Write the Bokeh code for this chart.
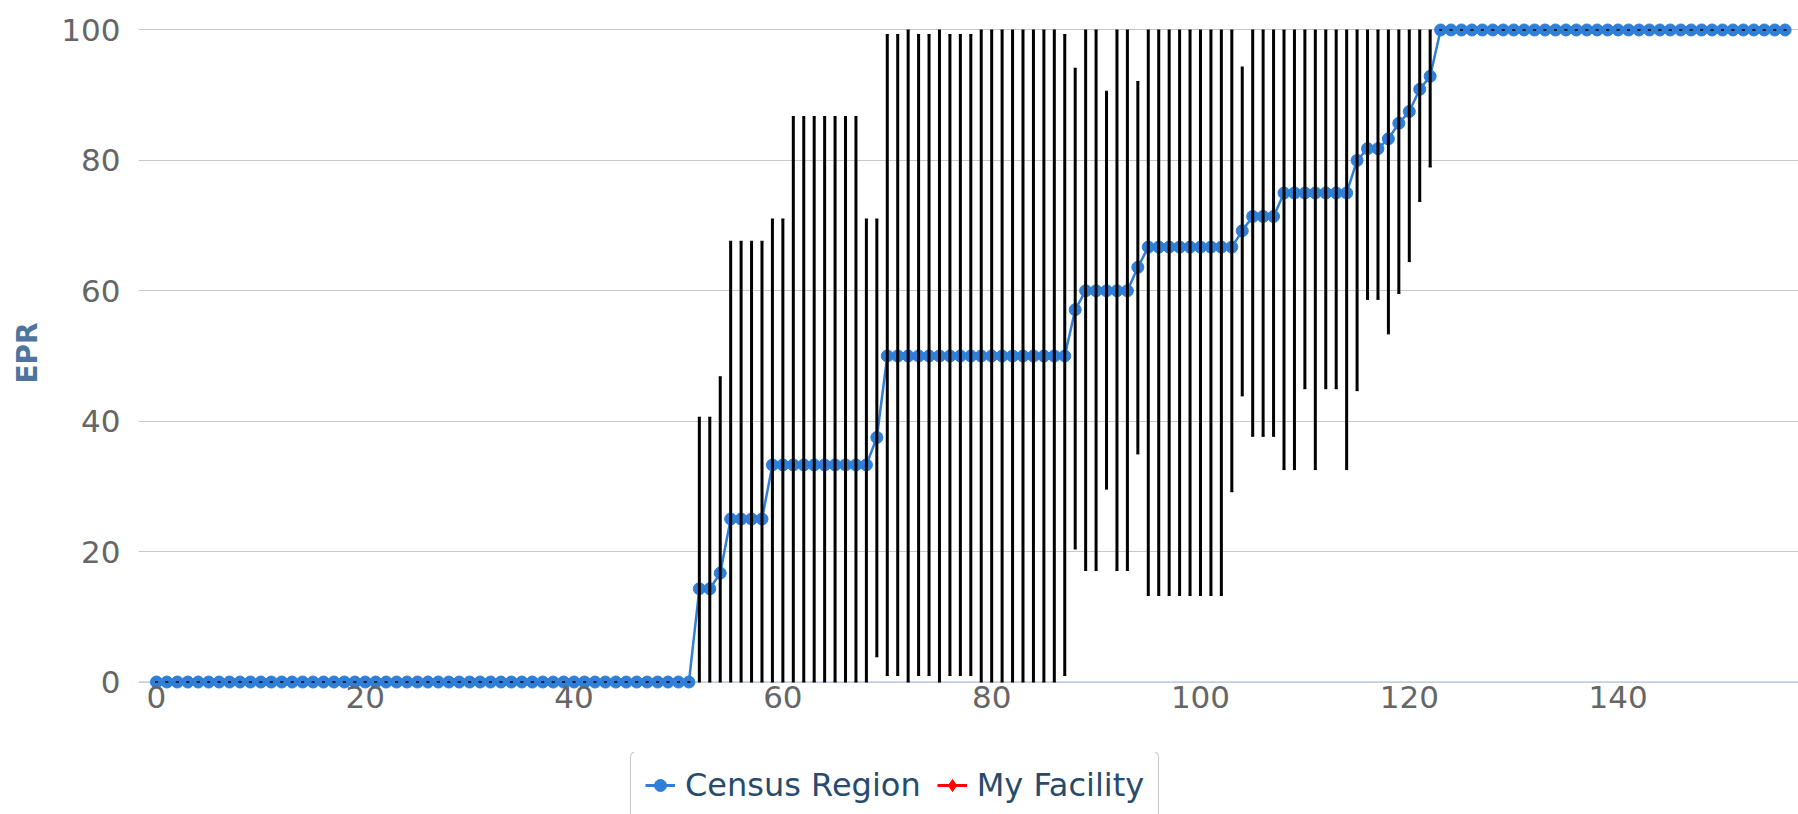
from bokeh.plotting import figure
from bokeh.layouts import column
from bokeh.models import ColumnDataSource, FixedTicker, Span, Legend, LegendItem, Range1d
from bokeh.embed import file_html
from bokeh.resources import INLINE

# ---------------- data ----------------
x_index = list(range(157))

census_region_epr = [
    0, 0, 0, 0, 0, 0, 0, 0, 0, 0,                              # 0-9
    0, 0, 0, 0, 0, 0, 0, 0, 0, 0,                              # 10-19
    0, 0, 0, 0, 0, 0, 0, 0, 0, 0,                              # 20-29
    0, 0, 0, 0, 0, 0, 0, 0, 0, 0,                              # 30-39
    0, 0, 0, 0, 0, 0, 0, 0, 0, 0,                              # 40-49
    0, 0, 14.3, 14.3, 16.7, 25, 25, 25, 25, 33.3,              # 50-59
    33.3, 33.3, 33.3, 33.3, 33.3, 33.3, 33.3, 33.3, 33.3, 37.5,  # 60-69
    50, 50, 50, 50, 50, 50, 50, 50, 50, 50,                    # 70-79
    50, 50, 50, 50, 50, 50, 50, 50, 57.1, 60,                  # 80-89
    60, 60, 60, 60, 63.6, 66.7, 66.7, 66.7, 66.7, 66.7,        # 90-99
    66.7, 66.7, 66.7, 66.7, 69.2, 71.4, 71.4, 71.4, 75, 75,    # 100-109
    75, 75, 75, 75, 75, 80, 81.8, 81.8, 83.3, 85.7,            # 110-119
    87.5, 90.9, 92.9, 100, 100, 100, 100, 100, 100, 100,       # 120-129
    100, 100, 100, 100, 100, 100, 100, 100, 100, 100,          # 130-139
    100, 100, 100, 100, 100, 100, 100, 100, 100, 100,          # 140-149
    100, 100, 100, 100, 100, 100, 100,                         # 150-156
]

ci_low = [
    0, 0, 0, 0, 0, 0, 0, 0, 0, 0,                              # 0-9
    0, 0, 0, 0, 0, 0, 0, 0, 0, 0,                              # 10-19
    0, 0, 0, 0, 0, 0, 0, 0, 0, 0,                              # 20-29
    0, 0, 0, 0, 0, 0, 0, 0, 0, 0,                              # 30-39
    0, 0, 0, 0, 0, 0, 0, 0, 0, 0,                              # 40-49
    0, 0, 0, 0, 0, 0, 0, 0, 0, 0,                              # 50-59
    0, 0, 0, 0, 0, 0, 0, 0, 0, 3.9,                            # 60-69
    1.0, 1.0, 0, 1.0, 1.0, 0, 1.0, 1.0, 1.0, 0,                # 70-79
    0, 0, 0, 0, 0, 0, 0, 1.0, 20.4, 17.1,                      # 80-89
    17.1, 29.6, 17.1, 17.1, 35.0, 13.3, 13.3, 13.3, 13.3, 13.3,  # 90-99
    13.3, 13.3, 13.3, 29.2, 43.9, 37.7, 37.7, 37.7, 32.6, 32.6,  # 100-109
    45.0, 32.6, 45.0, 45.0, 32.6, 44.7, 58.7, 58.7, 53.4, 59.6,  # 110-119
    64.5, 73.7, 79.0, 100, 100, 100, 100, 100, 100, 100,       # 120-129
    100, 100, 100, 100, 100, 100, 100, 100, 100, 100,          # 130-139
    100, 100, 100, 100, 100, 100, 100, 100, 100, 100,          # 140-149
    100, 100, 100, 100, 100, 100, 100,                         # 150-156
]

ci_high = [
    0, 0, 0, 0, 0, 0, 0, 0, 0, 0,                              # 0-9
    0, 0, 0, 0, 0, 0, 0, 0, 0, 0,                              # 10-19
    0, 0, 0, 0, 0, 0, 0, 0, 0, 0,                              # 20-29
    0, 0, 0, 0, 0, 0, 0, 0, 0, 0,                              # 30-39
    0, 0, 0, 0, 0, 0, 0, 0, 0, 0,                              # 40-49
    0, 0, 40.6, 40.6, 46.8, 67.6, 67.6, 67.6, 67.6, 71.0,      # 50-59
    71.0, 86.7, 86.7, 86.7, 86.7, 86.7, 86.7, 86.7, 71.0, 71.0,  # 60-69
    99.3, 99.3, 100, 99.3, 99.3, 100, 99.3, 99.3, 99.3, 100,   # 70-79
    100, 100, 100, 100, 100, 100, 100, 99.3, 94.1, 100,        # 80-89
    100, 90.6, 100, 100, 92.1, 100, 100, 100, 100, 100,        # 90-99
    100, 100, 100, 100, 94.3, 100, 100, 100, 100, 100,         # 100-109
    100, 100, 100, 100, 100, 100, 100, 100, 100, 100,          # 110-119
    100, 100, 100, 100, 100, 100, 100, 100, 100, 100,          # 120-129
    100, 100, 100, 100, 100, 100, 100, 100, 100, 100,          # 130-139
    100, 100, 100, 100, 100, 100, 100, 100, 100, 100,          # 140-149
    100, 100, 100, 100, 100, 100, 100,                         # 150-156
]

# "My Facility" has no plotted values in the reference
my_facility_x = [0]
my_facility_y = [float("nan")]

x_ticks = [0, 20, 40, 60, 80, 100, 120, 140]
y_ticks = [0, 20, 40, 60, 80, 100]

series_names = ["Census Region", "My Facility"]
y_title = "EPR"

# ---------------- main chart ----------------
FONT = "DejaVu Sans"
BLUE = "#2f7ed8"
RED = "#ff0000"

src = ColumnDataSource(dict(x=x_index, y=census_region_epr, lo=ci_low, hi=ci_high))
fac = ColumnDataSource(dict(x=my_facility_x, y=my_facility_y))

p = figure(width=1798, height=752, output_backend="svg", toolbar_location=None,
           x_range=Range1d(-1.72, 157.28), y_range=Range1d(-1.30, 102.22),
           min_border_left=138, min_border_right=0, min_border_top=15, min_border_bottom=62)
p.outline_line_color = None
p.background_fill_color = "white"
p.border_fill_color = "white"

p.xaxis.ticker = FixedTicker(ticks=x_ticks)
p.yaxis.ticker = FixedTicker(ticks=y_ticks)
p.xaxis.axis_line_color = None
p.yaxis.axis_line_color = None
for ax in (p.xaxis, p.yaxis):
    ax.major_tick_line_color = None
    ax.minor_tick_line_color = None
    ax.major_tick_out = 0
    ax.major_tick_in = 0
    ax.major_label_text_font = FONT
    ax.major_label_text_font_size = "31px"
    ax.major_label_text_color = "#666666"
p.xaxis.major_label_standoff = -5
p.yaxis.major_label_standoff = 18
p.yaxis.axis_label = y_title
p.yaxis.axis_label_text_font = FONT
p.yaxis.axis_label_text_font_style = "bold"
p.yaxis.axis_label_text_font_size = "28px"
p.yaxis.axis_label_text_color = "#4d759e"
p.yaxis.axis_label_standoff = 14

p.xgrid.grid_line_color = None
p.ygrid.grid_line_color = "#C8C8C8"
p.ygrid.grid_line_width = 1

x_axis_line = Span(location=0, dimension="width", line_color="#C0D0E0", line_width=1.5, level="underlay")
p.add_layout(x_axis_line)

p.line("x", "y", source=src, line_color=BLUE, line_width=2.5)
p.scatter("x", "y", source=src, marker="circle", size=12, fill_color=BLUE, line_color=BLUE)

p.segment(x0="x", y0="lo", x1="x", y1="hi", source=src, line_color="black", line_width=3)
p.scatter("x", "lo", source=src, marker="dash", size=3, line_color="black", line_width=1.2)
p.scatter("x", "hi", source=src, marker="dash", size=3, line_color="black", line_width=1.2)

p.line("x", "y", source=fac, line_color=RED, line_width=2)
p.scatter("x", "y", source=fac, marker="diamond", size=14, fill_color=RED, line_color=RED)

# ---------------- legend strip ----------------
lg = figure(width=1798, height=62, output_backend="svg", toolbar_location=None,
            x_axis_type=None, y_axis_type=None,
            x_range=Range1d(0, 1), y_range=Range1d(0, 1),
            min_border_left=0, min_border_right=0, min_border_top=0, min_border_bottom=0)
lg.outline_line_color = None
lg.background_fill_color = "white"
lg.border_fill_color = "white"
lg.grid.visible = False

key_src = ColumnDataSource(dict(x=my_facility_x, y=my_facility_y))
k1 = lg.line("x", "y", source=key_src, line_color=BLUE, line_width=3)
k2 = lg.scatter("x", "y", source=key_src, marker="circle", size=12, fill_color=BLUE, line_color=BLUE)
k3 = lg.line("x", "y", source=key_src, line_color=RED, line_width=3)
k4 = lg.scatter("x", "y", source=key_src, marker="diamond", size=14, fill_color=RED, line_color=RED)

legend = Legend(items=[LegendItem(label=series_names[0], renderers=[k1, k2]),
                       LegendItem(label=series_names[1], renderers=[k3, k4])],
                location=(492, -5), orientation="horizontal")
legend.label_text_font = FONT
legend.label_text_font_size = "32px"
legend.label_text_color = "#274b6d"
legend.border_line_color = "#909090"
legend.border_line_width = 1.5
legend.background_fill_color = "white"
legend.background_fill_alpha = 1
legend.padding = 14
legend.spacing = 16
legend.label_standoff = 10
legend.glyph_width = 30
legend.glyph_height = 30
legend.label_height = 34
legend.margin = 0
try:
    legend.border_radius = 6
except Exception:
    pass
lg.add_layout(legend)

layout = column(p, lg, spacing=0)
open("out.html", "w").write(file_html(layout, INLINE))
